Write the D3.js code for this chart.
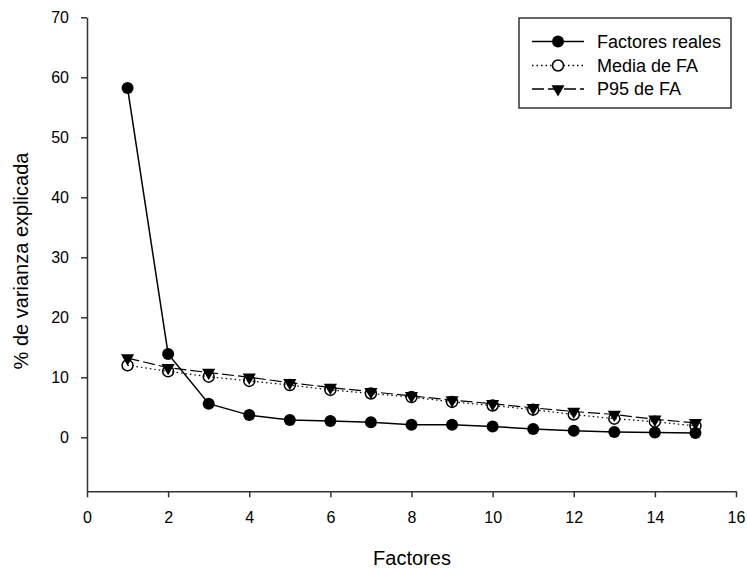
<!DOCTYPE html>
<html><head><meta charset="utf-8">
<script src="https://cdn.jsdelivr.net/npm/d3@7"></script>
<style>body{margin:0;background:#fff}svg{display:block}text{font-family:"Liberation Sans",Arial,sans-serif;fill:#000}</style>
</head><body><svg id="c" width="747" height="569"></svg>
<script>
const factors = [1,2,3,4,5,6,7,8,9,10,11,12,13,14,15];
const reales = [58.2,13.9,5.6,3.7,2.9,2.7,2.5,2.1,2.1,1.8,1.4,1.1,0.9,0.8,0.7];
const mediaFA = [12.0,11.0,10.1,9.4,8.7,7.9,7.3,6.7,5.9,5.3,4.6,3.8,3.1,2.6,1.9];
const p95FA = [13.2,11.6,10.8,10.0,9.1,8.3,7.6,6.9,6.2,5.6,4.9,4.3,3.8,3.0,2.4];
const xTicks = [0,2,4,6,8,10,12,14,16];
const yTicks = [0,10,20,30,40,50,60,70];
const seriesNames = ["Factores reales","Media de FA","P95 de FA"];

const svg = d3.select("#c");
const x = d3.scaleLinear().domain([0,16]).range([87,736]);
const y = d3.scaleLinear().domain([-9,70]).range([491.3,17.3]);

const gx = svg.append("g").attr("transform","translate(0,"+y(-9)+")")
  .call(d3.axisBottom(x).tickValues(xTicks).tickSize(6).tickPadding(14).tickSizeOuter(0));
const gy = svg.append("g").attr("transform","translate("+x(0)+",0)")
  .call(d3.axisLeft(y).tickValues(yTicks).tickSize(6).tickPadding(12).tickSizeOuter(0));
[gx,gy].forEach(g=>{
  g.selectAll("path,line").attr("stroke","#333").attr("stroke-width",1.5);
  g.selectAll("text").attr("font-size",16).attr("font-family","Liberation Sans, Arial, sans-serif").attr("fill","#111");
});
svg.append("text").attr("x",412).attr("y",565).attr("text-anchor","middle").attr("font-size",20).text("Factores");
svg.append("text").attr("transform","translate(28,261) rotate(-90)").attr("text-anchor","middle").attr("font-size",20).text("% de varianza explicada");

const line = d3.line().x((d,i)=>x(factors[i])).y(d=>y(d));
svg.append("path").datum(mediaFA).attr("d",line).attr("fill","none").attr("stroke","#000").attr("stroke-width",1.2).attr("stroke-dasharray","1.5,3");
svg.append("path").datum(p95FA).attr("d",line).attr("fill","none").attr("stroke","#000").attr("stroke-width",1.2).attr("stroke-dasharray","12,4");
svg.append("path").datum(reales).attr("d",line).attr("fill","none").attr("stroke","#000").attr("stroke-width",1.5);

const tri = d3.symbol().type(d3.symbolTriangle).size(75);
function triangle(g,cx,cy){
  g.append("path").attr("d",tri()).attr("transform","translate("+cx+","+cy+") rotate(180)").attr("fill","#000");
}
p95FA.forEach((v,i)=>triangle(svg,x(factors[i]),y(v)));
mediaFA.forEach((v,i)=>svg.append("circle").attr("cx",x(factors[i])).attr("cy",y(v)).attr("r",5.5).attr("fill","none").attr("stroke","#000").attr("stroke-width",1.5));
reales.forEach((v,i)=>svg.append("circle").attr("cx",x(factors[i])).attr("cy",y(v)).attr("r",6).attr("fill","#000"));

const lg = svg.append("g");
lg.append("rect").attr("x",519).attr("y",18).attr("width",212).attr("height",90).attr("fill","#fff").attr("stroke","#333").attr("stroke-width",1.5);
const rows = [41.5,65.5,89];
rows.forEach((ry,i)=>{
  const l = lg.append("line").attr("x1",532).attr("x2",584).attr("y1",ry).attr("y2",ry).attr("stroke","#000").attr("stroke-width",1.3);
  if(i===1) l.attr("stroke-dasharray","1.5,3");
  if(i===2) l.attr("stroke-dasharray","12,4");
  if(i===0) lg.append("circle").attr("cx",558).attr("cy",ry).attr("r",6).attr("fill","#000");
  if(i===1) lg.append("circle").attr("cx",558).attr("cy",ry).attr("r",5.5).attr("fill","#fff").attr("stroke","#000").attr("stroke-width",1.5);
  if(i===2) triangle(lg,558,ry);
  lg.append("text").attr("x",597).attr("y",ry).attr("dy","0.35em").attr("font-size",18).text(seriesNames[i]);
});
</script></body></html>
